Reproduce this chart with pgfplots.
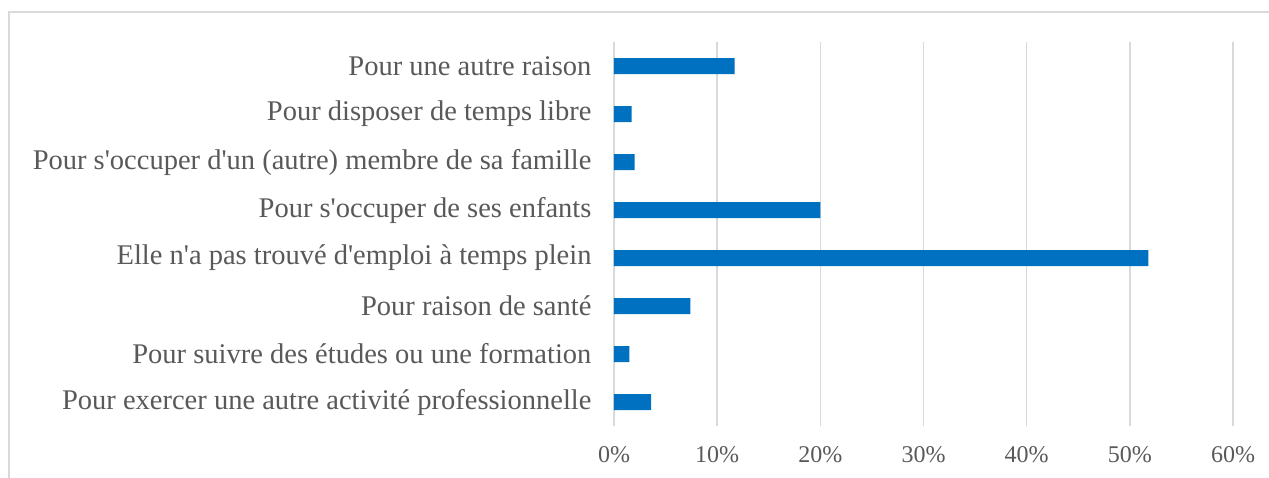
\documentclass[border=0pt]{standalone}
\usepackage{fontspec}
\setmainfont{Liberation Serif}
\usepackage{pgfplots}
\pgfplotsset{compat=1.18}
\definecolor{barblue}{HTML}{0070C0}
\definecolor{txtgray}{HTML}{595959}
\definecolor{gridgray}{HTML}{D9D9D9}
\begin{document}
\begin{tikzpicture}
\useasboundingbox (0pt,0pt) rectangle (1269pt,-477pt);
\clip (0pt,0pt) rectangle (1269pt,-477pt);
\draw[gridgray, line width=1.5pt] (9pt,-520pt) -- (9pt,-12pt) -- (1320pt,-12pt);
\begin{axis}[
  at={(614pt,-426pt)}, anchor=south west,
  scale only axis,
  width=619pt, height=384pt,
  xbar, bar width=16pt,
  xmin=0, xmax=60,
  ymin=-0.5, ymax=7.5,
  xtick={0,10,...,60},
  ytick={0,...,7},
  yticklabels={
    Pour exercer une autre activité professionnelle,
    Pour suivre des études ou une formation,
    Pour raison de santé,
    Elle n\textquotesingle a pas trouvé d\textquotesingle emploi à temps plein,
    Pour s\textquotesingle occuper de ses enfants,
    Pour s\textquotesingle occuper d\textquotesingle un (autre) membre de sa famille,
    Pour disposer de temps libre,
    Pour une autre raison},
  xticklabel={\pgfmathprintnumber{\tick}\%},
  /pgf/number format/assume math mode=true,
  xmajorgrids,
  major grid style={gridgray, line width=1.5pt},
  axis line style={draw=none},
  major tick length=0pt,
  yticklabel style={font=\fontsize{28.5}{32}\selectfont, text=txtgray, xshift=-19pt},
  xticklabel style={font=\fontsize{24}{28}\selectfont, text=txtgray, yshift=-17pt},
  clip=false,
]
\addplot[fill=barblue, draw=none] coordinates {
  (3.6,0) (1.5,1) (7.4,2) (51.8,3) (20.0,4) (2.0,5) (1.7,6) (11.7,7)};
\end{axis}
\end{tikzpicture}
\end{document}
